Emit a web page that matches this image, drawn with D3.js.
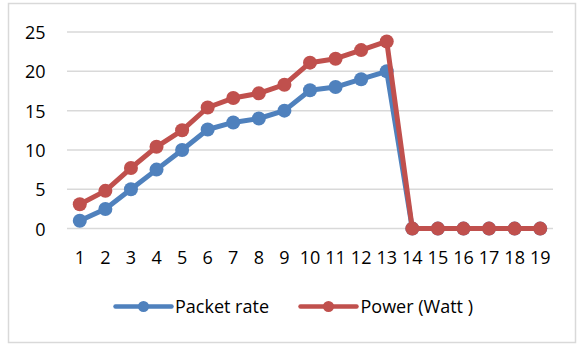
<!DOCTYPE html>
<html>
<head>
<meta charset="utf-8">
<script src="https://cdn.jsdelivr.net/npm/d3@7"></script>
<style>
  html, body { margin: 0; padding: 0; background: #fff; }
  svg text { font-family: "Open Sans", "Liberation Sans", sans-serif; fill: #000; }
</style>
</head>
<body>
<svg id="chart" width="579" height="346"></svg>
<script>
// Chart data
const categories = ["1","2","3","4","5","6","7","8","9","10","11","12","13","14","15","16","17","18","19"];
const packetRate = [1, 2.5, 5, 7.5, 10, 12.6, 13.5, 14, 15, 17.6, 18, 19, 20, 0, 0, 0, 0, 0, 0];
const powerWatt  = [3.1, 4.8, 7.7, 10.4, 12.5, 15.4, 16.6, 17.2, 18.3, 21.1, 21.6, 22.7, 23.8, 0, 0, 0, 0, 0, 0];
const yTicks = [0, 5, 10, 15, 20, 25];
const seriesNames = ["Packet rate", "Power (Watt )"];
const seriesColors = ["#4F81BD", "#C0504D"];

const svg = d3.select("#chart");
const fontFamily = "'Open Sans', 'Liberation Sans', sans-serif";

// Outer chart frame
svg.append("rect")
  .attr("x", 8.5).attr("y", 3.5)
  .attr("width", 567).attr("height", 339)
  .attr("fill", "#fff").attr("stroke", "#d9d9d9").attr("stroke-width", 1.5);

const plot = { left: 67, right: 553, top: 32, bottom: 228.6 };

const x = d3.scaleBand().domain(categories).range([plot.left, plot.right]);
const y = d3.scaleLinear().domain([0, 25]).range([plot.bottom, plot.top]);

// Horizontal gridlines
svg.append("g").selectAll("line").data(yTicks).join("line")
  .attr("x1", plot.left).attr("x2", plot.right)
  .attr("y1", d => y(d)).attr("y2", d => y(d))
  .attr("stroke", "#d9d9d9").attr("stroke-width", 1.5);

// Y axis labels
const yAxis = d3.axisLeft(y).tickValues(yTicks).tickSize(0).tickPadding(0);
const gy = svg.append("g").attr("transform", `translate(${45.5},0)`).call(yAxis);
gy.select(".domain").remove();
gy.selectAll("text").attr("font-size", 18).attr("dy", "0.36em")
  .style("font-family", fontFamily);

// X axis labels
const xAxis = d3.axisBottom(x).tickSize(0).tickPadding(0);
const gx = svg.append("g").attr("transform", `translate(0,${257.5})`).call(xAxis);
gx.select(".domain").remove();
gx.selectAll("text").attr("font-size", 18).attr("dy", "0.36em")
  .style("font-family", fontFamily);

const cx = d => x(d) + x.bandwidth() / 2;

// Series lines and markers
[packetRate, powerWatt].forEach((vals, i) => {
  const pts = categories.map((c, j) => [cx(c), y(vals[j])]);
  svg.append("path")
    .attr("d", d3.line()(pts))
    .attr("fill", "none")
    .attr("stroke", seriesColors[i])
    .attr("stroke-width", 5)
    .attr("stroke-linejoin", "round");
  svg.append("g").selectAll("circle").data(pts).join("circle")
    .attr("cx", d => d[0]).attr("cy", d => d[1])
    .attr("r", 7).attr("fill", seriesColors[i]);
});

// Legend
const legend = [
  { x1: 115.5, x2: 171.5, tx: 175 },
  { x1: 300.5, x2: 356.5, tx: 360.5 }
];
legend.forEach((l, i) => {
  const ly = 306.5;
  svg.append("line")
    .attr("x1", l.x1).attr("x2", l.x2).attr("y1", ly).attr("y2", ly)
    .attr("stroke", seriesColors[i]).attr("stroke-width", 4.5)
    .attr("stroke-linecap", "round");
  svg.append("circle").attr("cx", (l.x1 + l.x2) / 2).attr("cy", ly)
    .attr("r", 5.5).attr("fill", seriesColors[i]);
  svg.append("text").attr("x", l.tx).attr("y", ly).attr("dy", "0.36em")
    .attr("font-size", 18).style("font-family", fontFamily).text(seriesNames[i]);
});
</script>
</body>
</html>
